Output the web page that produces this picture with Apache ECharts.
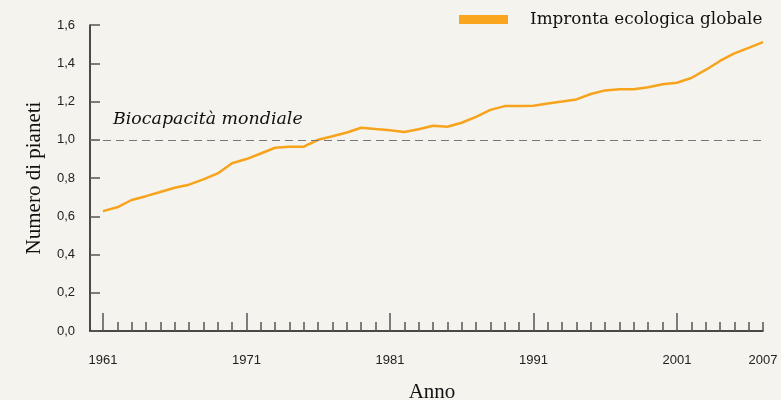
<!DOCTYPE html>
<html>
<head>
<meta charset="utf-8">
<title>Impronta ecologica globale</title>
<script src="https://cdn.jsdelivr.net/npm/echarts@6/dist/echarts.min.js"></script>
<style>
  html, body { margin: 0; padding: 0; background: #f4f3ed; }
  #footprint { width: 781px; height: 400px; }
</style>
</head>
<body>
<div id="footprint"></div>
<script>
// years and footprint (number of planets)
const years = [];
for (let y = 1961; y <= 2007; y++) years.push(y);

const footprint = [
    0.627, 0.647, 0.685, 0.705, 0.727, 0.749, 0.765, 0.793, 0.824, 0.877,
    0.899, 0.928, 0.958, 0.964, 0.964, 1.000, 1.018, 1.038, 1.063, 1.056,
    1.050, 1.040, 1.055, 1.073, 1.068, 1.089, 1.120, 1.156, 1.176, 1.177,
    1.178, 1.190, 1.200, 1.211, 1.239, 1.258, 1.264, 1.264, 1.274, 1.290,
    1.298, 1.323, 1.365, 1.412, 1.452, 1.480, 1.510
];

const majorTicks = [1961, 1971, 1981, 1991, 2001];
const yearLabels = [1961, 1971, 1981, 1991, 2001, 2007];
const biocapacity = 1.0;

const chart = echarts.init(document.getElementById('footprint'));

const tickColor = '#555';
const sans = '"Liberation Sans", Arial, sans-serif';

const option = {
    backgroundColor: '#f4f3ed',
    animation: false,
    grid: {
        left: 90, right: 18, top: 25, bottom: 69,
        containLabel: false,
        outerBoundsMode: 'none',
    },
    legend: {
        data: ['Impronta ecologica globale'],
        left: 459,
        top: 11,
        padding: 0,
        icon: 'rect',
        itemWidth: 49,
        itemHeight: 9,
        textStyle: {
            fontFamily: '"DejaVu Serif", serif',
            fontSize: 16.8,
            color: '#111',
            padding: [0, 0, 0, 17],
        },
    },
    xAxis: [
        {
            // minor yearly ticks + axis line
            type: 'value',
            min: 1960.1,
            max: 2007,
            axisLine: { show: true, lineStyle: { color: '#111', width: 1.5 } },
            axisTick: {
                show: true,
                inside: true,
                length: 9,
                customValues: years,
                lineStyle: { color: tickColor, width: 1.5 },
            },
            axisLabel: { show: false },
            splitLine: { show: false },
            name: 'Anno',
            nameLocation: 'middle',
            nameGap: 51,
            nameTextStyle: {
                fontFamily: '"Liberation Serif", serif',
                fontSize: 21,
                color: '#111',
                padding: [0, 0, 0, 11],
            },
        },
        {
            // decade ticks + labels
            type: 'value',
            min: 1960.1,
            max: 2007,
            position: 'bottom',
            axisLine: { show: false },
            axisTick: {
                show: true,
                inside: true,
                length: 18,
                customValues: majorTicks,
                lineStyle: { color: tickColor, width: 1.5 },
            },
            axisLabel: {
                show: true,
                customValues: yearLabels,
                margin: 23,
                fontFamily: sans,
                fontSize: 13,
                color: '#222',
                formatter: v => String(v),
            },
            splitLine: { show: false },
        },
    ],
    yAxis: {
        type: 'value',
        min: 0,
        max: 1.6,
        interval: 0.2,
        axisLine: { show: true, lineStyle: { color: '#111', width: 1.5 } },
        axisTick: { show: true, inside: true, length: 10, lineStyle: { color: tickColor, width: 1.5 } },
        axisLabel: {
            margin: 15,
            fontFamily: sans,
            fontSize: 13,
            color: '#222',
            formatter: v => v.toFixed(1).replace('.', ','),
        },
        splitLine: { show: false },
        name: 'Numero di pianeti',
        nameLocation: 'middle',
        nameRotate: 90,
        nameGap: 45,
        nameTextStyle: { fontFamily: '"Liberation Serif", serif', fontSize: 21, color: '#111' },
    },
    graphic: [
        {
            type: 'text',
            left: 113,
            top: 111,
            style: {
                text: 'Biocapacità mondiale',
                font: 'italic 17.4px "DejaVu Serif", serif',
                fill: '#111',
            },
        },
    ],
    series: [
        {
            name: 'Impronta ecologica globale',
            type: 'line',
            xAxisIndex: 0,
            data: years.map((y, i) => [y, footprint[i]]),
            showSymbol: false,
            symbol: 'none',
            lineStyle: { color: '#f7a31c', width: 2.5 },
            itemStyle: { color: '#f9a61e' },
            z: 3,
            markLine: {
                silent: true,
                symbol: 'none',
                label: { show: false },
                lineStyle: { color: '#777', type: [8, 5], width: 1 },
                data: [{ yAxis: biocapacity }],
            },
        },
    ],
};

chart.setOption(option);
</script>
</body>
</html>
